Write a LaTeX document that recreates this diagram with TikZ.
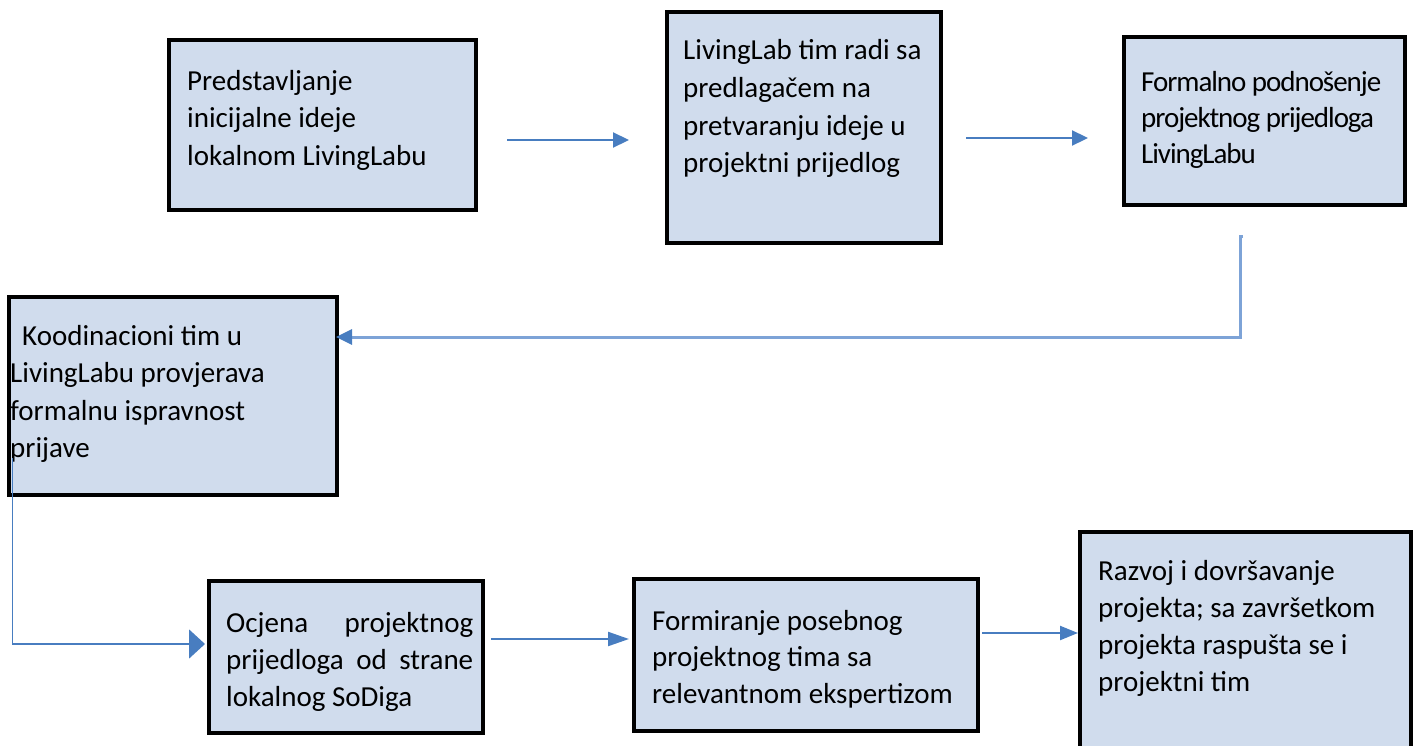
\documentclass[tikz,border=0pt]{standalone}
\usepackage{fontspec}
\setmainfont{Carlito}
\newfontfamily\condfont[LetterSpace=-3.6]{Carlito}
\usetikzlibrary{arrows.meta}
\definecolor{boxfill}{RGB}{208,220,237}
\definecolor{ablue}{RGB}{72,125,192}
\definecolor{lblue}{RGB}{125,163,215}
\tikzset{
  box/.style={draw=black, line width=4bp, fill=boxfill, rectangle, inner sep=0pt},
  txt/.style={anchor=base west, inner sep=0pt, align=left, font=\fontsize{29bp}{37.5bp}\selectfont},
  conn/.style={draw=ablue, line width=2.2bp, -{Triangle[length=16bp,width=15bp]}},
}
\begin{document}
\begin{tikzpicture}[x=1bp,y=-1bp]
\useasboundingbox (0,0) rectangle (1418,745);
% boxes
\node[box, minimum width=307bp, minimum height=170bp] (b1) at (322.5,125) {};
\node[box, minimum width=274bp, minimum height=231bp] (b2) at (804,127.5) {};
\node[box, minimum width=281bp, minimum height=168bp] (b3) at (1264.5,121) {};
\node[box, minimum width=328bp, minimum height=198bp] (b4) at (173,396) {};
\node[box, minimum width=274bp, minimum height=152bp] (b5) at (346,657) {};
\node[box, minimum width=344bp, minimum height=152bp] (b6) at (806,655) {};
\node[box, minimum width=331bp, minimum height=228bp] (b7) at (1245.5,646) {};
% texts (anchored at the baseline of their last line)
\node[txt] (t1) at (187,165) {Predstavljanje\\inicijalne ideje\\lokalnom LivingLabu};
\node[txt] (t2) at (683,172.5) {LivingLab tim radi sa\\predlagačem na\\pretvaranju ideje u\\projektni prijedlog};
\node[txt, font=\condfont\fontsize{29bp}{36bp}\selectfont] (t3) at (1141,163) {Formalno podnošenje\\projektnog prijedloga\\LivingLabu};
\node[txt] (t4) at (10,457.5) {\hspace*{12bp}Koodinacioni tim u\\LivingLabu provjerava\\formalnu ispravnost\\prijave};
% justified paragraph: anchored at the baseline of its first line
\node[txt, align=justify, text width=247bp, font=\fontsize{29bp}{37bp}\selectfont] (t5) at (226,632) {\tolerance=10000\relax\hyphenpenalty=10000\relax Ocjena projektnog prijedloga od strane lokalnog SoDiga};
\node[txt, font=\fontsize{29bp}{36.5bp}\selectfont] (t6) at (652,703) {Formiranje posebnog\\projektnog tima sa\\relevantnom ekspertizom};
\node[txt, font=\fontsize{29bp}{37bp}\selectfont] (t7) at (1098,691) {Razvoj i dovršavanje\\projekta; sa završetkom\\projekta raspušta se i\\projektni tim};
% connectors
\coordinate (a1s) at (507,140);
\draw[conn] (a1s) -- ([xshift=-36bp]a1s -| b2.west);
\coordinate (a2s) at (966,138);
\draw[conn] (a2s) -- ([xshift=-34bp]a2s -| b3.west);
\coordinate (c3) at (1240,236);
\coordinate (y3) at (0,337);
\draw[draw=lblue, line width=3bp, -{Triangle[length=16bp,width=15bp,color=ablue]}]
  ([xshift=3bp]c3) -- (c3) |- ([xshift=-3bp]b4.east |- y3);
\coordinate (c4) at (12.5,458);
\coordinate (y4) at (0,644);
\draw[draw=ablue, line width=1.5bp, -{Triangle[length=16bp,width=29bp]}]
  (c4) |- ([xshift=-2bp]b5.west |- y4);
\coordinate (a5s) at (491,639);
\draw[conn, -{Triangle[length=21bp,width=14bp]}] (a5s) -- ([xshift=-3bp]a5s -| b6.west);
\coordinate (a6s) at (982,633);
\draw[conn, -{Triangle[length=18bp,width=14bp]}] (a6s) -- (a6s -| b7.west);
\end{tikzpicture}
\end{document}
